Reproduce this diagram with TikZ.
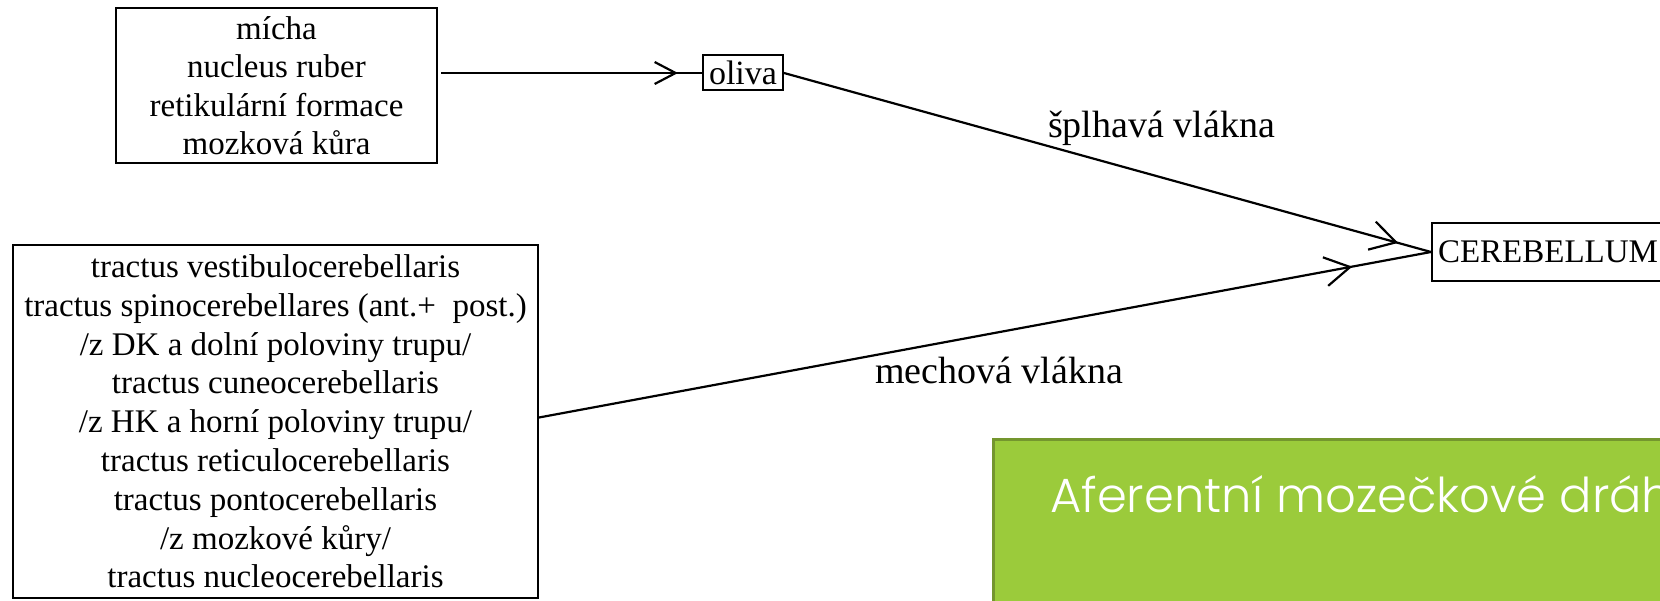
\documentclass[tikz,border=0pt]{standalone}
\usepackage{fontspec}
\setmainfont{Liberation Serif}
\newfontfamily\gothicfont{Poppins Light}
\usetikzlibrary{arrows.meta,decorations.markings}
\definecolor{panelgreen}{RGB}{155,203,59}
\definecolor{paneledge}{RGB}{116,150,46}
\tikzset{
  srcbox/.style={draw, line width=2pt, align=center, inner sep=0pt},
  conn/.style={line width=2.2pt, postaction={decorate}},
  tipat/.style={decoration={markings, mark=at position #1 with {\arrow{Straight Barb[length=25pt,width=29pt,line width=2.2pt]}}}},
  smalltipat/.style={decoration={markings, mark=at position #1 with {\arrow{Straight Barb[length=21pt,width=22pt,line width=2.2pt]}}}},
  lbl/.style={anchor=base west, inner sep=0pt, font=\fontsize{38}{40}\selectfont}
}
\begin{document}
\begin{tikzpicture}[x=1pt,y=-1pt]
\path[use as bounding box, fill=white] (0,0) rectangle (1660,601);
\clip (0,0) rectangle (1660,601);

\node[srcbox, minimum width=321pt, minimum height=155pt, font=\fontsize{33}{38.5}\selectfont] (tb) at (276.5,85.5)
  {mícha\\nucleus ruber\\retikulární formace\\mozková kůra};

\node[srcbox, minimum width=80pt, minimum height=35pt, font=\fontsize{34}{36}\selectfont] (ol) at (743,73) {oliva};

\node[draw, line width=2pt, anchor=west, minimum height=58pt, inner xsep=6pt, inner ysep=0pt, font=\fontsize{33}{36}\selectfont] (ce) at (1431,252) {CEREBELLUM};

\node[srcbox, minimum width=525pt, minimum height=353pt, font=\fontsize{33}{38.8}\selectfont] (bb) at (275.5,421.5)
  {tractus vestibulocerebellaris\\
   tractus spinocerebellares (ant.+ \ post.)\\
   /z DK a dolní poloviny trupu/\\
   tractus cuneocerebellaris\\
   /z HK a horní poloviny trupu/\\
   tractus reticulocerebellaris\\
   tractus pontocerebellaris\\
   /z mozkové kůry/\\
   tractus nucleocerebellaris};

\coordinate (s1) at ([xshift=3pt]tb.east |- ol.west);
\draw[conn, smalltipat=-24pt] (s1) -- (ol.west);
\draw[conn, tipat=-34pt] (ol.east) -- (ce.west);
\draw[conn, tipat=-80pt] ([yshift=4pt]bb.east) -- (ce.west);

\node[lbl] (l1) at (1048,138) {šplhavá vlákna};
\node[lbl] (l2) at (875,384) {mechová vlákna};

\node[draw=paneledge, fill=panelgreen, line width=3pt, anchor=north west, minimum width=700pt, minimum height=190pt] (panel) at (992,438) {};
\node[anchor=base west, inner sep=0pt, text=white, font=\gothicfont\fontsize{48}{50}\selectfont] (title) at (1050,512) {Aferentní mozečkové dráhy};
\end{tikzpicture}
\end{document}
